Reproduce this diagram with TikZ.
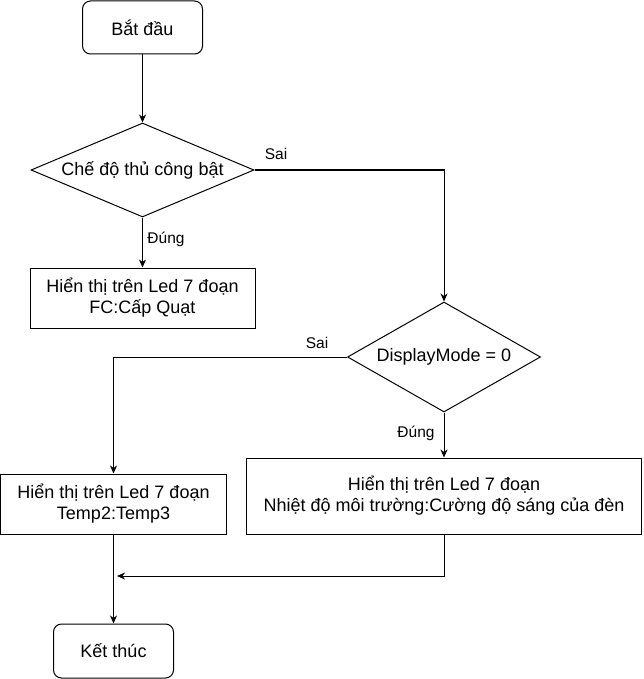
\documentclass[tikz,border=0pt]{standalone}
\usepackage{fontspec}
\setmainfont{Liberation Sans}
\usetikzlibrary{shapes.geometric,arrows.meta}
\begin{document}
\begin{tikzpicture}[x=1pt,y=-1pt, font=\fontsize{18}{21}\selectfont,
  line width=1pt,
  term/.style={draw, rounded corners=8pt, minimum width=120pt, minimum height=53pt, inner sep=0pt, align=center},
  proc/.style={draw, minimum height=60pt, inner sep=0pt, align=center},
  dec/.style={draw, diamond, inner sep=0pt, align=center},
  lbl/.style={font=\fontsize{15.5}{18}\selectfont, inner sep=0pt},
  arr/.style={-{Stealth[length=8pt,width=7pt,inset=2.5pt]}}]
\useasboundingbox (0,0) rectangle (643,679);
\node[term] (start) at (142.5,27.5) {Bắt đầu};
\node[dec, shape aspect=2.372, minimum width=223pt, minimum height=94pt] (d1) at (142.5,170) {Chế độ thủ công bật};
\node[proc, minimum width=225pt] (p1) at (142.5,298) {Hiển thị trên Led 7 đoạn\\FC:Cấp Quạt};
\node[dec, shape aspect=1.755, minimum width=193pt, minimum height=110pt] (d2) at (444,357) {DisplayMode = 0};
\node[proc, minimum width=226pt] (p2) at (113.5,504) {Hiển thị trên Led 7 đoạn\\Temp2:Temp3};
\node[proc, minimum width=395pt, minimum height=76pt] (p3) at (444,496) {Hiển thị trên Led 7 đoạn\\Nhiệt độ môi trường:Cường độ sáng của đèn};
\node[term, minimum height=54pt] (end) at (113.5,651) {Kết thúc};
\node[lbl] (s1) at (276,154) {Sai};
\node[lbl] (t1) at (166,239) {Đúng};
\node[lbl] (s2) at (317,343) {Sai};
\node[lbl] (t2) at (416,433) {Đúng};
\coordinate (m) at (117,576);
\draw[arr] (start) -- (d1);
\draw[arr] (d1) -- (p1);
\draw[arr] (d1.east) -| (d2.north);
\draw[arr] (d2.west) -| (p2.north);
\draw[arr] (d2) -- (p3);
\draw[arr] (p2) -- (end);
\draw[arr] (p3.south) |- (m);
\end{tikzpicture}
\end{document}
